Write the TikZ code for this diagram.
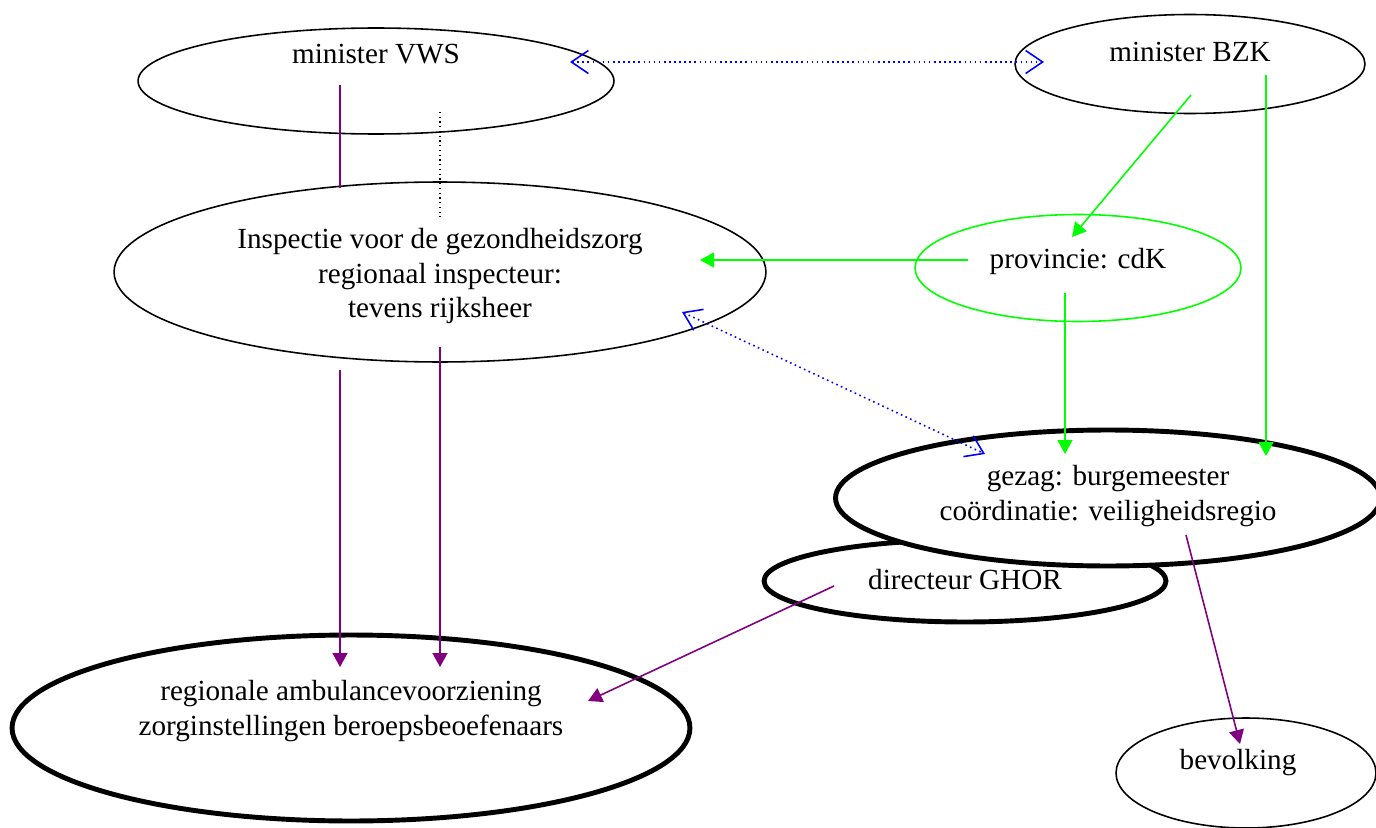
\documentclass[tikz,border=0pt]{standalone}
\usepackage{fontspec}
\setmainfont{Liberation Serif}
\usetikzlibrary{shapes.geometric,arrows.meta}
\definecolor{vpurple}{RGB}{128,0,128}
\definecolor{vgreen}{RGB}{0,255,0}
\definecolor{vblue}{RGB}{0,0,255}
\tikzset{
  thinell/.style={draw, ellipse, inner sep=0pt, line width=0.9pt},
  thickell/.style={draw, ellipse, fill=white, inner sep=0pt, line width=2.8pt},
  lbl/.style={align=center, inner sep=0pt, font=\fontsize{16.6}{19.8}\selectfont},
  purplearrow/.style={vpurple, line width=0.9pt, -{Triangle[length=0.28cm,width=0.3cm]}},
  greenarrow/.style={vgreen, line width=0.9pt, -{Triangle[length=0.28cm,width=0.3cm]}},
  bluelink/.style={vblue, dotted, line width=0.9pt,
    {Straight Barb[length=0.34cm,width=0.46cm]}-{Straight Barb[length=0.34cm,width=0.46cm]}},
}
\begin{document}
\begin{tikzpicture}[x=0.02cm, y=-0.02cm]
\useasboundingbox (0,0) rectangle (1376,828);
% ellipses
\node[thinell, minimum width=9.52cm, minimum height=2.12cm] (vws) at (376,81) {};
\node[thinell, minimum width=7cm, minimum height=1.98cm] (bzk) at (1190,64) {};
\node[thinell, minimum width=13.04cm, minimum height=3.6cm] (insp) at (440,272) {};
\node[thinell, vgreen, minimum width=6.52cm, minimum height=2.14cm] (prov) at (1078,268) {};
\node[thickell, minimum width=8.04cm, minimum height=1.64cm] (ghor) at (965,581) {};
\node[thickell, minimum width=10.9cm, minimum height=2.72cm] (gezag) at (1108,498) {};
\node[thickell, minimum width=13.56cm, minimum height=3.72cm] (reg) at (351,728) {};
\node[thinell, minimum width=5.2cm, minimum height=2.2cm] (bev) at (1246,773) {};
% texts
\node[lbl] (vws-t) at (376,54) {minister VWS};
\node[lbl] (bzk-t) at (1190,52) {minister BZK};
\node[lbl] (insp-t) at (440,276) {Inspectie voor de gezondheidszorg\\regionaal inspecteur:\\tevens rijksheer};
\node[lbl] (prov-t) at (1078,261) {provincie: cdK};
\node[lbl] (gezag-t) at (1108,496) {gezag: burgemeester\\coördinatie: veiligheidsregio};
\node[lbl] (ghor-t) at (965,580) {directeur GHOR};
\node[lbl] (reg-t) at (351,711) {regionale ambulancevoorziening\\zorginstellingen beroepsbeoefenaars};
\node[lbl] (bev-t) at (1238,763) {bevolking};
% connector ends
\coordinate (vws-b) at (570,62);
\coordinate (bzk-b) at (1044,62);
\coordinate (vws-p) at (340,85);
\coordinate (insp-p) at (340,188);
\coordinate (vws-d) at (440,112);
\coordinate (insp-d) at (440,217);
\coordinate (insp-p1) at (340,370);
\coordinate (insp-p2) at (440,347);
\coordinate (reg-p1) at (340,667);
\coordinate (reg-p2) at (440,667);
\coordinate (insp-b) at (682,312);
\coordinate (gezag-b) at (985,454);
\coordinate (bzk-g1) at (1191,95);
\coordinate (prov-g1) at (1072,237);
\coordinate (bzk-g2) at (1266,75);
\coordinate (gezag-g2) at (1266,456);
\coordinate (prov-g3) at (1065,293);
\coordinate (gezag-g3) at (1065,454);
\coordinate (prov-g4) at (968,260);
\coordinate (insp-g4) at (700,260);
\coordinate (ghor-p) at (834,586);
\coordinate (reg-p3) at (588,701);
\coordinate (gezag-p) at (1186,535);
\coordinate (bev-p) at (1240,744);
% connectors
\draw[bluelink] (vws-b) -- (bzk-b);
\draw[bluelink] (insp-b) -- (gezag-b);
\draw[vpurple, line width=0.9pt] (vws-p) -- (insp-p);
\draw[black, dotted, line width=0.7pt] (vws-d) -- (insp-d);
\draw[purplearrow] (insp-p1) -- (reg-p1);
\draw[purplearrow] (insp-p2) -- (reg-p2);
\draw[greenarrow] (bzk-g1) -- (prov-g1);
\draw[greenarrow] (bzk-g2) -- (gezag-g2);
\draw[greenarrow] (prov-g3) -- (gezag-g3);
\draw[greenarrow] (prov-g4) -- (insp-g4);
\draw[purplearrow] (ghor-p) -- (reg-p3);
\draw[purplearrow] (gezag-p) -- (bev-p);
\end{tikzpicture}
\end{document}
